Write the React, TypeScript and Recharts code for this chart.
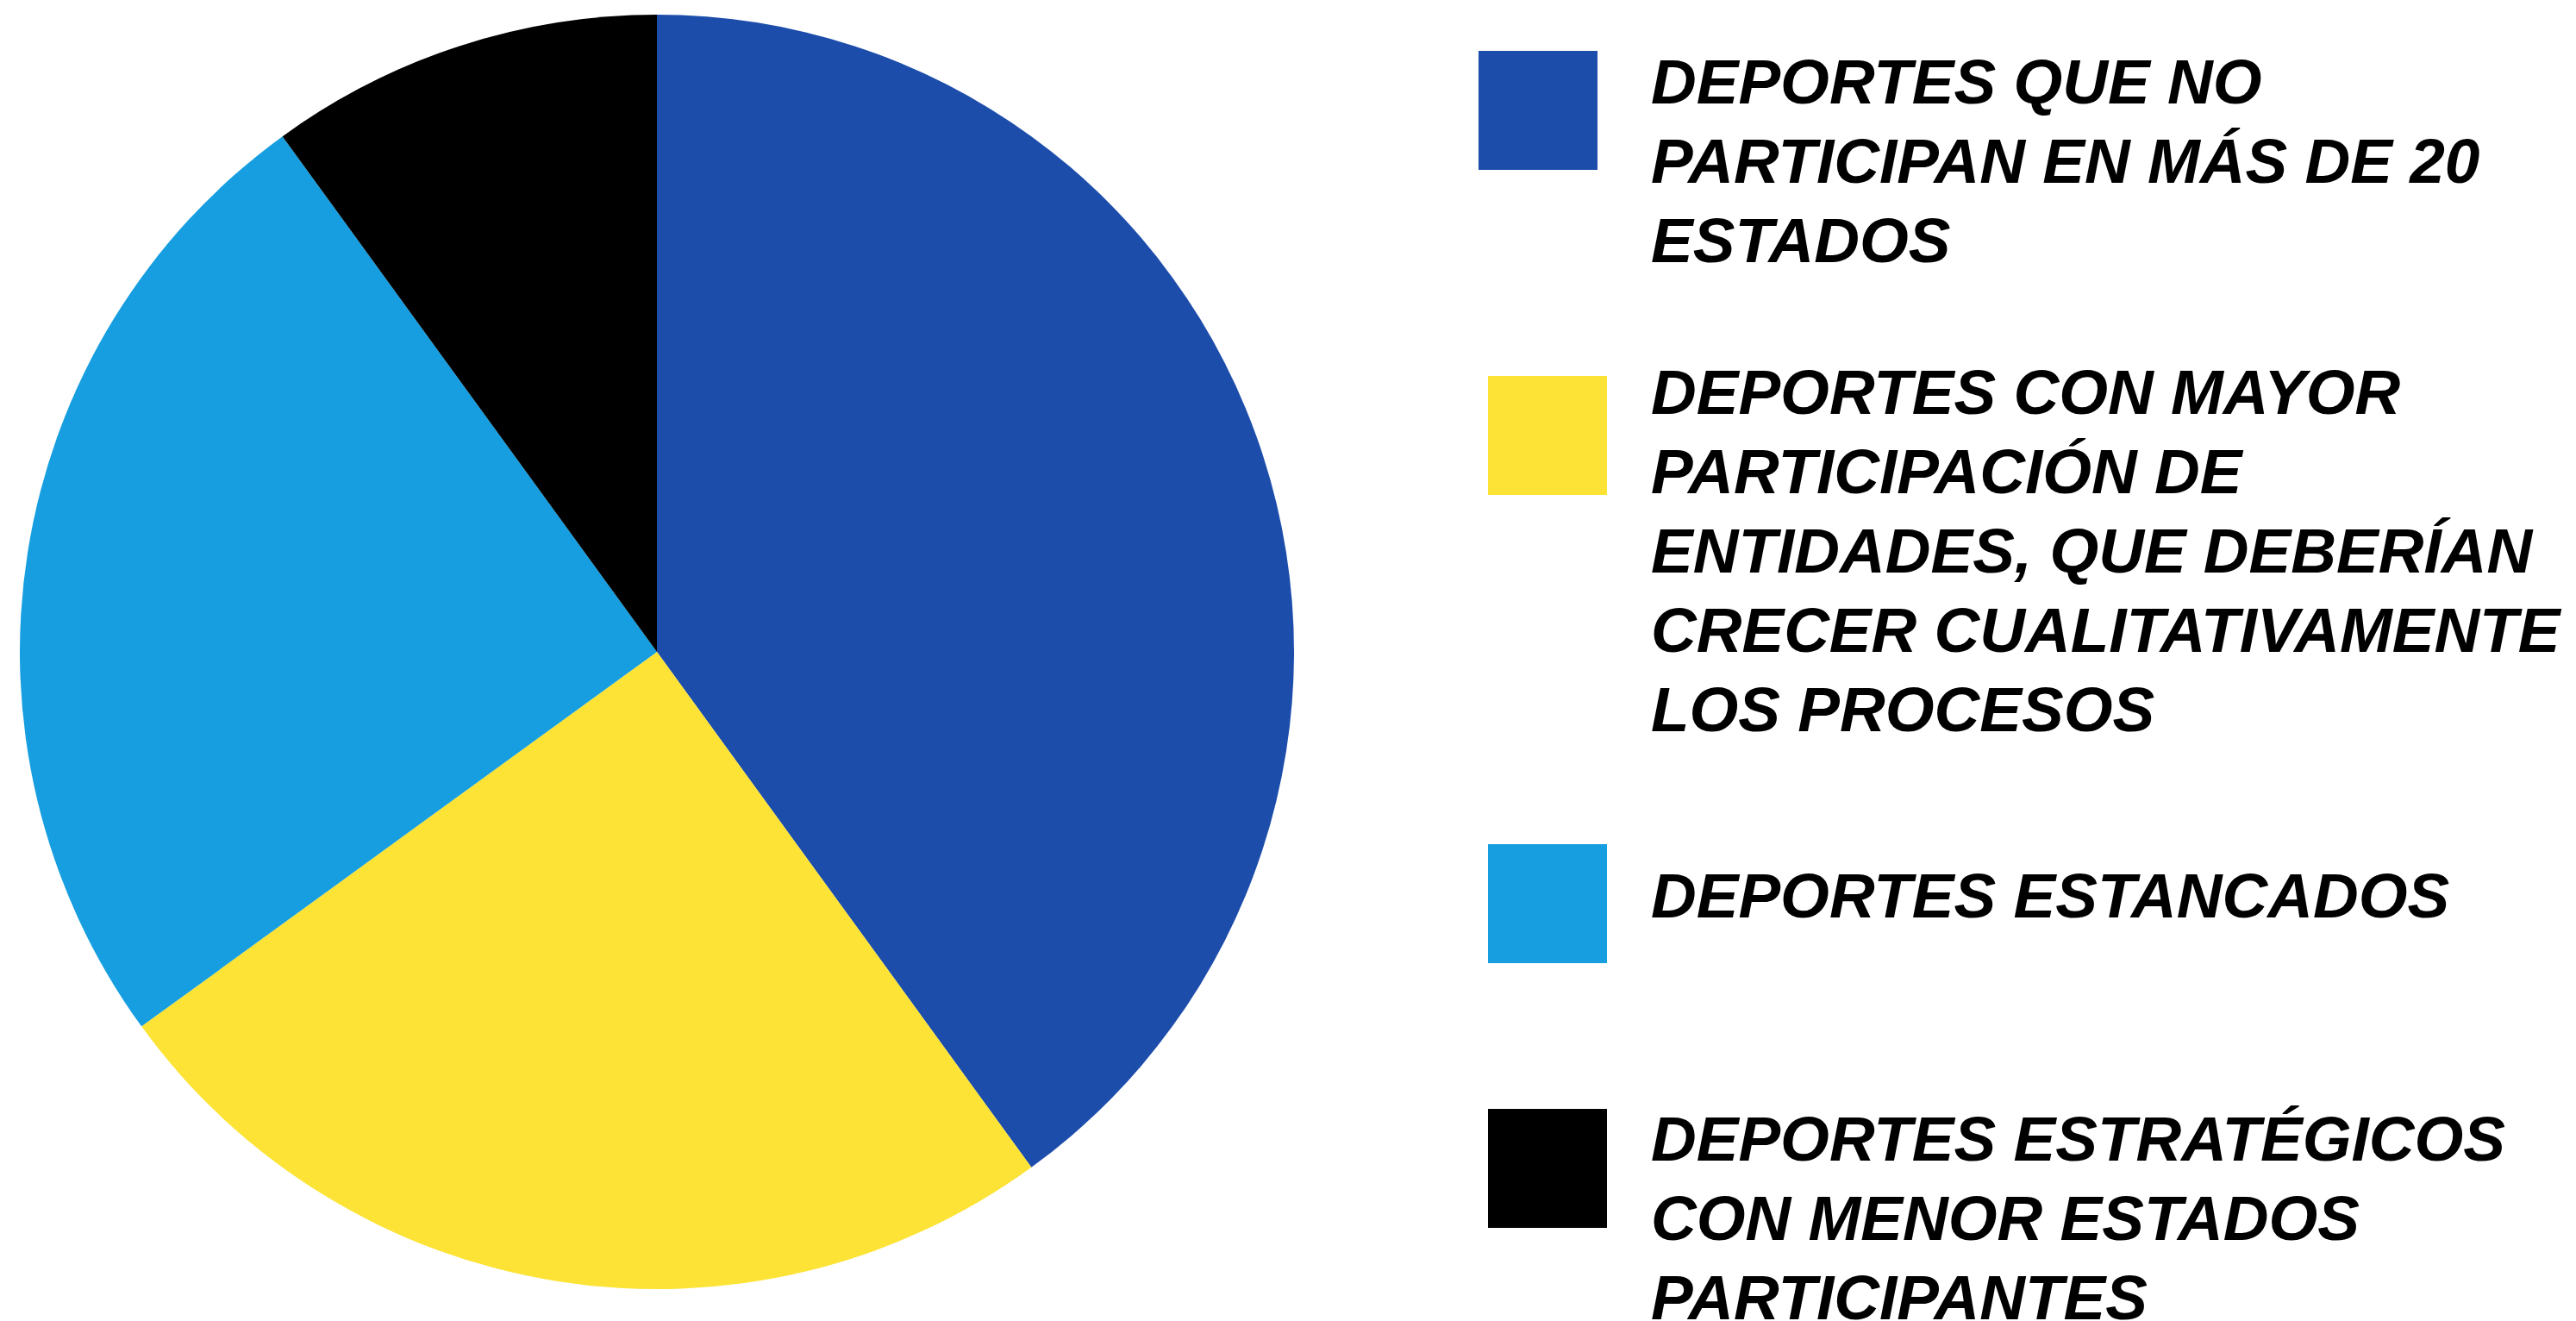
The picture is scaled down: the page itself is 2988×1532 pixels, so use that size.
import { PieChart, Pie, Cell, Legend } from 'recharts';

const categories = [
  'Deportes que no participan en más de 20 estados',
  'Deportes con mayor participación de entidades, que deberían crecer cualitativamente los procesos',
  'Deportes estancados',
  'Deportes estratégicos con menor estados participantes',
];

const values = [40, 25, 25, 10];

// legend labels broken the same way as the original
const labelLines = [
  ['DEPORTES QUE NO', 'PARTICIPAN EN MÁS DE 20', 'ESTADOS'],
  ['DEPORTES CON MAYOR', 'PARTICIPACIÓN DE', 'ENTIDADES, QUE DEBERÍAN', 'CRECER CUALITATIVAMENTE', 'LOS PROCESOS'],
  ['DEPORTES ESTANCADOS'],
  ['DEPORTES ESTRATÉGICOS', 'CON MENOR ESTADOS', 'PARTICIPANTES'],
];

const COLORS = ['#1D4DAB', '#FCE336', '#169EE0', '#000000'];

const chartData = categories.map((name, i) => ({ name, value: values[i] }));

// where each legend entry sits (square top, text block top, square left)
const legendLayout = [
  { boxTop: 59, textTop: 49, boxLeft: 0 },
  { boxTop: 436, textTop: 409, boxLeft: 11 },
  { boxTop: 979, textTop: 993, boxLeft: 11 },
  { boxTop: 1286, textTop: 1275, boxLeft: 11 },
];

const LINE_HEIGHT = 92;

function LegendContent() {
  return (
    <div style={{ position: 'relative', width: 1273, height: 1532 }}>
      {labelLines.map((lines, i) => (
        <div key={`legend-${i}`}>
          <div
            style={{
              position: 'absolute',
              left: legendLayout[i].boxLeft,
              top: legendLayout[i].boxTop,
              width: 138,
              height: 138,
              background: COLORS[i],
            }}
          />
          <div
            style={{
              position: 'absolute',
              left: 200,
              top: legendLayout[i].textTop,
              fontFamily: '"Liberation Sans", Arial, sans-serif',
              fontWeight: 700,
              fontStyle: 'italic',
              fontSize: 73,
              lineHeight: `${LINE_HEIGHT}px`,
              color: '#000',
              whiteSpace: 'nowrap',
            }}
          >
            {lines.map((l, j) => (
              <div key={j}>{l}</div>
            ))}
          </div>
        </div>
      ))}
    </div>
  );
}

export default function App() {
  return (
    <div style={{ position: 'absolute', left: 0, top: 0, width: 2988, height: 1532, background: '#fff' }}>
      <PieChart width={2988} height={1532} margin={{ top: 0, right: 0, bottom: 0, left: 0 }}>
        <Pie
          data={chartData}
          dataKey="value"
          nameKey="name"
          cx={762}
          cy={756}
          outerRadius={739}
          startAngle={90}
          endAngle={-270}
          stroke="none"
          isAnimationActive={false}
        >
          {chartData.map((_, index) => (
            <Cell key={`cell-${index}`} fill={COLORS[index % COLORS.length]} />
          ))}
        </Pie>
        <Legend
          content={<LegendContent />}
          wrapperStyle={{ position: 'absolute', left: 1715, top: 0, width: 1273, height: 1532 }}
        />
      </PieChart>
    </div>
  );
}
